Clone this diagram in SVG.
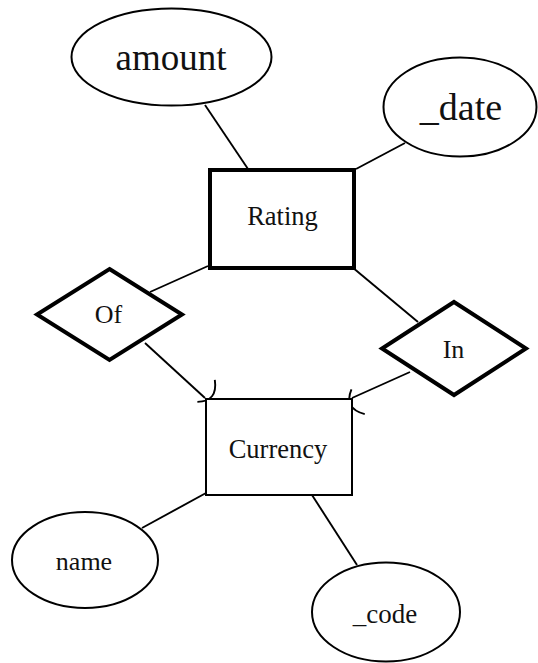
<svg xmlns="http://www.w3.org/2000/svg" width="538" height="663" viewBox="0 0 538 663">
<style>
.attr{fill:#fff;stroke:#000;stroke-width:2}
.ent{fill:#fff;stroke:#000}
.rel{fill:#fff;stroke:#000;stroke-width:4;stroke-linejoin:miter}
.lbl{font-family:"Liberation Serif","Times New Roman",serif;fill:#111;text-anchor:middle}
.edge{stroke:#000;stroke-width:1.9;fill:none}
</style>
<defs>
<marker id="curve" markerUnits="userSpaceOnUse" markerWidth="40" markerHeight="40" refX="0" refY="0" orient="auto" overflow="visible" viewBox="-20 -20 40 40">
<path d="M -5 -20 Q 12 -6 -3 8" fill="none" stroke="#000" stroke-width="1.9"/>
</marker>
</defs>
<g id="connectors">
<line class="edge" x1="205" y1="105" x2="248" y2="169"/>
<line class="edge" x1="405" y1="143" x2="356" y2="169"/>
<line class="edge" x1="208" y1="266" x2="150" y2="292"/>
<line class="edge" x1="352" y1="267" x2="418" y2="322"/>
<line class="edge" x1="145" y1="343" x2="205" y2="398" marker-end="url(#curve)"/>
<line class="edge" x1="410" y1="372" x2="352" y2="398" marker-end="url(#curve)"/>
<line class="edge" x1="142" y1="528" x2="206" y2="493"/>
<line class="edge" x1="312" y1="495" x2="357" y2="565"/>
</g>
<g id="amount">
<ellipse class="attr" cx="171.5" cy="57" rx="100" ry="48.5"/>
<text class="lbl" x="171" y="70" font-size="37">amount</text>
</g>
<g id="date">
<ellipse class="attr" cx="460" cy="107" rx="76.5" ry="49.5"/>
<text class="lbl" x="461" y="120" font-size="38">_date</text>
</g>
<g id="Rating">
<rect class="ent" x="210" y="170" width="144" height="98" stroke-width="4"/>
<text class="lbl" x="282.5" y="225" font-size="26.5">Rating</text>
</g>
<g id="Of">
<polygon class="rel" points="109.5,269 182,314.5 109.5,360 37,314.5"/>
<text class="lbl" x="108.5" y="323" font-size="26">Of</text>
</g>
<g id="In">
<polygon class="rel" points="454,302 526,348.5 454,395 382,348.5"/>
<text class="lbl" x="453.5" y="358" font-size="26">In</text>
</g>
<g id="Currency">
<rect class="ent" x="206" y="399" width="146" height="96" stroke-width="2"/>
<text class="lbl" x="278" y="458" font-size="26.5">Currency</text>
</g>
<g id="name">
<ellipse class="attr" cx="85" cy="560" rx="73" ry="48"/>
<text class="lbl" x="84" y="570" font-size="26">name</text>
</g>
<g id="code">
<ellipse class="attr" cx="386" cy="612" rx="74" ry="49.5"/>
<text class="lbl" x="385" y="623" font-size="27">_code</text>
</g>
</svg>
